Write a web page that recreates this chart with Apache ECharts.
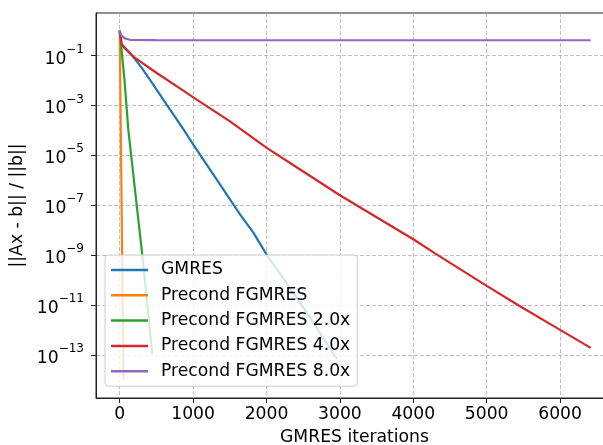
<!DOCTYPE html>
<html>
<head>
<meta charset="utf-8">
<script src="https://cdn.jsdelivr.net/npm/echarts@6/dist/echarts.min.js"></script>
<style>
  html, body { margin: 0; padding: 0; background: #fff; }
  #main { width: 603px; height: 445px; }
</style>
</head>
<body>
<div id="main"></div>
<script>
// residual histories
const gmresIter = [0, 20, 100, 185, 300, 413, 640, 867, 1003, 1366, 1639, 1821, 2000, 2500, 2960]
const gmresRes = [1, 2.8e-1, 1.6e-1, 9e-2, 3.2e-2, 1.07e-2, 1.07e-3, 1.12e-4, 2.7e-5, 6.8e-7, 4.3e-8, 7.9e-9, 1.07e-9, 7.9e-12, 6.8e-14]

const pfgIter = [0, 10, 20, 30, 40, 52]
const pfgRes = [1, 2e-3, 4e-6, 8e-9, 1.6e-11, 1e-14]

const pfg2Iter = [0, 65, 117, 267, 308, 444]
const pfg2Res = [1, 1.07e-2, 1.07e-4, 1.17e-8, 1e-9, 1.07e-13]

const pfg4Iter = [0, 30, 185, 504, 913, 1003, 1503, 2003, 2500, 3000, 4000, 4296, 5000, 5454, 6000, 6417]
const pfg4Res = [1, 2.8e-1, 9.1e-2, 2e-2, 3.2e-3, 2.1e-3, 2.3e-4, 2e-5, 2.24e-6, 2.5e-7, 4.3e-9, 1.17e-9, 5.8e-11, 8.9e-12, 1e-12, 1.9e-13]

const pfg8Iter = [0, 15, 70, 140, 500, 1000, 2000, 3000, 4000, 5000, 6000, 6417]
const pfg8Res = [1, 6.8e-1, 4.9e-1, 4.3e-1, 4.15e-1, 4.13e-1, 4.13e-1, 4.13e-1, 4.13e-1, 4.13e-1, 4.13e-1, 4.13e-1]

const names = ['GMRES', 'Precond FGMRES', 'Precond FGMRES 2.0x', 'Precond FGMRES 4.0x', 'Precond FGMRES 8.0x']
const colors = ['#1f77b4', '#ff7f0e', '#2ca02c', '#d62728', '#9467bd']

const xTicks = [0, 1000, 2000, 3000, 4000, 5000, 6000]
const yTicks = [1e-13, 1e-11, 1e-9, 1e-7, 1e-5, 1e-3, 1e-1]

const font = 'DejaVu Sans'
const fs = 17.2
const pairs = (xs, ys) => xs.map((x, i) => [x, ys[i]])
const allData = [
    pairs(gmresIter, gmresRes),
    pairs(pfgIter, pfgRes),
    pairs(pfg2Iter, pfg2Res),
    pairs(pfg4Iter, pfg4Res),
    pairs(pfg8Iter, pfg8Res)
]

const chart = echarts.init(document.getElementById('main'), null, { renderer: 'canvas' })

const gridLine = { show: true, lineStyle: { color: '#b0b0b0', width: 0.8, type: [4, 2] } }

const option = {
    animation: false,
    backgroundColor: '#fff',
    grid: {
        left: 96,
        top: 13,
        width: 517,
        height: 385,
        outerBoundsMode: 'none',
        containLabel: false,
        show: true,
        borderColor: '#222',
        borderWidth: 1
    },
    legend: {
        orient: 'vertical',
        left: 105,
        top: 255,
        data: names,
        icon: 'rect',
        itemWidth: 37,
        itemHeight: 2.5,
        itemGap: 5.3,
        padding: [5, 7, 5, 6],
        backgroundColor: 'rgba(255,255,255,0.8)',
        borderColor: '#cccccc',
        borderWidth: 1,
        borderRadius: 3,
        textStyle: {
            fontFamily: font,
            fontSize: fs,
            color: '#000',
            lineHeight: 20,
            padding: [0, 0, 0, 8]
        }
    },
    xAxis: {
        type: 'value',
        min: -323,
        max: 6721,
        name: 'GMRES iterations',
        nameLocation: 'middle',
        nameGap: 31,
        nameTextStyle: { fontFamily: font, fontSize: fs, color: '#000' },
        axisLine: { show: true, onZero: false, lineStyle: { color: '#222', width: 1 } },
        axisTick: { show: true, length: 5, customValues: xTicks, lineStyle: { color: '#222' } },
        axisLabel: {
            customValues: xTicks,
            margin: 8,
            formatter: (v) => String(v),
            fontFamily: font,
            fontSize: fs,
            color: '#000'
        },
        splitLine: gridLine
    },
    yAxis: {
        type: 'log',
        min: Math.pow(10, -14.732),
        max: Math.pow(10, 0.708),
        name: '||Ax - b|| / ||b||',
        nameLocation: 'middle',
        nameGap: 66,
        nameTextStyle: { fontFamily: font, fontSize: fs, color: '#000' },
        axisLine: { show: true, onZero: false, lineStyle: { color: '#222', width: 1 } },
        axisTick: { show: true, length: 5, customValues: yTicks, lineStyle: { color: '#222' } },
        axisLabel: {
            customValues: yTicks,
            margin: 12,
            formatter: (v) => '{b|10}{s|\u2212' + Math.abs(Math.round(Math.log10(v))) + '}',
            rich: {
                b: { fontFamily: font, fontSize: fs, color: '#000', lineHeight: 24, verticalAlign: 'bottom' },
                s: { fontFamily: font, fontSize: 12, color: '#000', lineHeight: 24, verticalAlign: 'top' }
            }
        },
        splitLine: gridLine
    },
    series: allData.map((data, i) => ({
        name: names[i],
        type: 'line',
        data,
        symbol: 'none',
        color: colors[i],
        lineStyle: { color: colors[i], width: 2.2 }
    }))
}

chart.setOption(option)
</script>
</body>
</html>
